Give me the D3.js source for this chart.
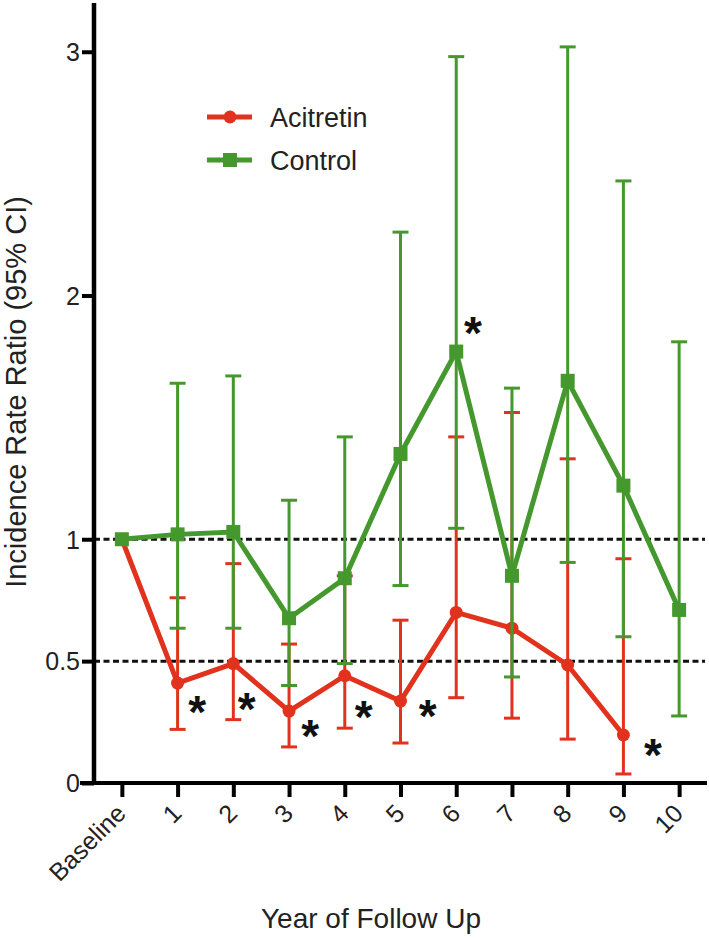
<!DOCTYPE html>
<html>
<head>
<meta charset="utf-8">
<script src="https://cdn.jsdelivr.net/npm/d3@7"></script>
<style>
  html, body { margin: 0; padding: 0; background: #fff; }
  svg { display: block; font-family: "Liberation Sans", Arial, Helvetica, sans-serif; }
</style>
</head>
<body>
<svg id="chart" width="709" height="938"></svg>
<script>
// ---- data ----
const categories = ["Baseline", "1", "2", "3", "4", "5", "6", "7", "8", "9", "10"];
const acitretin     = [1, 0.41, 0.49, 0.295, 0.44, 0.336, 0.70, 0.635, 0.484, 0.197, null];
const acitretinLow  = [null, 0.22, 0.26, 0.148, 0.225, 0.164, 0.35, 0.266, 0.18, 0.037, null];
const acitretinHigh = [null, 0.76, 0.90, 0.57, 0.85, 0.668, 1.42, 1.52, 1.33, 0.92, null];
const control       = [1, 1.02, 1.03, 0.676, 0.84, 1.35, 1.77, 0.85, 1.65, 1.22, 0.71];
const controlLow    = [null, 0.635, 0.635, 0.40, 0.49, 0.81, 1.045, 0.435, 0.905, 0.60, 0.275];
const controlHigh   = [null, 1.64, 1.67, 1.16, 1.42, 2.26, 2.98, 1.62, 3.02, 2.47, 1.81];
const yTicks = [0, 0.5, 1, 2, 3];
const refLines = [1, 0.5];
// significance asterisks: position in category units and value units
const starPos = [1.35, 2.24, 3.38, 4.34, 5.49, 9.53, 6.30];
const starVal = [0.33, 0.344, 0.234, 0.31, 0.316, 0.156, 1.885];
const seriesNames = ["Acitretin", "Control"];

// ---- styles ----
const RED = "#e1321e";
const GREEN = "#45982d";

const svg = d3.select("#chart");
const x = d3.scalePoint().domain(categories).range([94, 707]).padding(0.5);
const y = d3.scaleLinear().domain([0, 3.2]).range([783, 3]);
const xPos = p => x(categories[0]) + p * x.step();

// reference dashed lines
svg.selectAll(".ref").data(refLines).join("line")
  .attr("x1", 94).attr("x2", 705)
  .attr("y1", d => y(d)).attr("y2", d => y(d))
  .attr("stroke", "#111").attr("stroke-width", 3)
  .attr("stroke-dasharray", "6,3.5");

function drawSeries(vals, lo, hi, color, marker) {
  const g = svg.append("g");
  const idx = categories.map((c, i) => i);
  const eb = idx.filter(i => lo[i] != null);
  // error bars
  g.selectAll(".v").data(eb).join("line")
    .attr("x1", i => x(categories[i])).attr("x2", i => x(categories[i]))
    .attr("y1", i => y(lo[i])).attr("y2", i => y(hi[i]))
    .attr("stroke", color).attr("stroke-width", 3);
  const caps = eb.flatMap(i => [[i, lo[i]], [i, hi[i]]]);
  g.selectAll(".c").data(caps).join("line")
    .attr("x1", d => x(categories[d[0]]) - 8).attr("x2", d => x(categories[d[0]]) + 8)
    .attr("y1", d => y(d[1])).attr("y2", d => y(d[1]))
    .attr("stroke", color).attr("stroke-width", 3);
  // line
  const pts = idx.filter(i => vals[i] != null);
  g.append("path")
    .datum(pts)
    .attr("fill", "none").attr("stroke", color).attr("stroke-width", 5)
    .attr("stroke-linejoin", "miter")
    .attr("d", d3.line().x(i => x(categories[i])).y(i => y(vals[i])));
  // markers
  if (marker === "circle") {
    g.selectAll(".m").data(pts).join("circle")
      .attr("cx", i => x(categories[i])).attr("cy", i => y(vals[i]))
      .attr("r", 6.5).attr("fill", color);
  } else {
    g.selectAll(".m").data(pts).join("rect")
      .attr("x", i => x(categories[i]) - 7).attr("y", i => y(vals[i]) - 7)
      .attr("width", 14).attr("height", 14).attr("fill", color);
  }
}

drawSeries(acitretin, acitretinLow, acitretinHigh, RED, "circle");
drawSeries(control, controlLow, controlHigh, GREEN, "square");

// asterisks
svg.selectAll(".star").data(starPos).join("text")
  .attr("x", (d) => xPos(d))
  .attr("y", (d, i) => y(starVal[i]))
  .attr("dy", "0.56em")
  .attr("text-anchor", "middle")
  .attr("font-size", 46).attr("font-weight", "bold")
  .attr("fill", "#111")
  .text("*");

// axes
const yAxis = svg.append("g").attr("transform", "translate(94,0)")
  .call(d3.axisLeft(y).tickValues(yTicks).tickSize(12).tickSizeOuter(0).tickFormat(d3.format("")));
yAxis.select(".domain").attr("stroke", "#000").attr("stroke-width", 4.5).attr("d", "M0,3V785");
yAxis.selectAll(".tick line").attr("stroke", "#000").attr("stroke-width", 4);
yAxis.selectAll(".tick text").attr("font-size", 25).attr("fill", "#222").attr("x", -14).attr("dy", "0.35em")
  .attr("font-family", "'Liberation Sans', Arial, sans-serif");

const xAxis = svg.append("g").attr("transform", "translate(0,783)")
  .call(d3.axisBottom(x).tickSize(14).tickSizeOuter(0));
xAxis.select(".domain").attr("stroke", "#000").attr("stroke-width", 4).attr("d", "M80,0H707");
xAxis.selectAll(".tick line").attr("stroke", "#000").attr("stroke-width", 4);
xAxis.selectAll(".tick text")
  .attr("font-size", 25).attr("fill", "#222")
  .attr("font-family", "'Liberation Sans', Arial, sans-serif")
  .attr("text-anchor", "end")
  .attr("y", 0).attr("dy", 0)
  .attr("transform", "translate(5,32) rotate(-45)");

// axis titles
svg.append("text")
  .attr("transform", "translate(26,392) rotate(-90)")
  .attr("text-anchor", "middle")
  .attr("font-size", 29).attr("fill", "#222")
  .text("Incidence Rate Ratio (95% CI)");
svg.append("text")
  .attr("x", 371).attr("y", 928)
  .attr("text-anchor", "middle")
  .attr("font-size", 28).attr("fill", "#222")
  .text("Year of Follow Up");

// legend
const legend = svg.append("g");
const legColors = [RED, GREEN];
const legY = [117, 160];
seriesNames.forEach((name, i) => {
  legend.append("line").attr("x1", 207).attr("x2", 252).attr("y1", legY[i]).attr("y2", legY[i])
    .attr("stroke", legColors[i]).attr("stroke-width", 5);
  if (i === 0) {
    legend.append("circle").attr("cx", 230).attr("cy", legY[i]).attr("r", 6.5).attr("fill", legColors[i]);
  } else {
    legend.append("rect").attr("x", 223).attr("y", legY[i] - 7).attr("width", 14).attr("height", 14).attr("fill", legColors[i]);
  }
  legend.append("text").attr("x", 270).attr("y", legY[i] + 10)
    .attr("font-size", 27).attr("fill", "#222").text(name);
});
</script>
</body>
</html>
